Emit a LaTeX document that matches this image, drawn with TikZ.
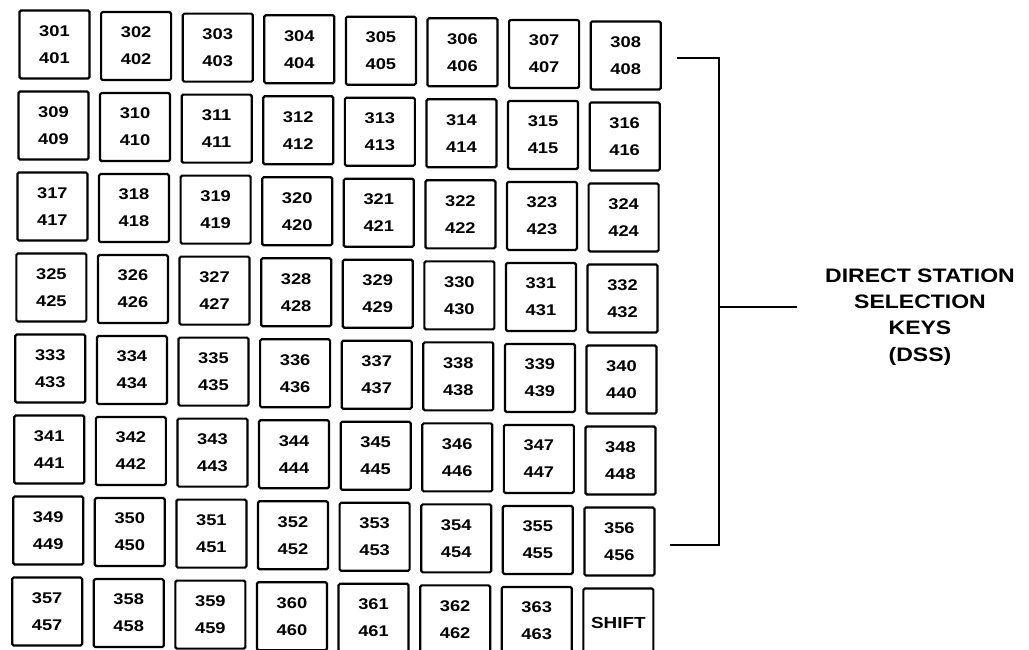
\documentclass[tikz,border=0pt]{standalone}
\usepackage{fontspec}
\newfontfamily\keyf{Liberation Sans}[FakeStretch=1.18]
\begin{document}
\begin{tikzpicture}[x=1pt,y=-1pt,
  keybox/.style={draw=black,line width=2.2pt,rounded corners=1.5pt,minimum width=70pt,minimum height=68pt,inner sep=0pt,align=center,font=\keyf\bfseries\fontsize{15.5}{27}\selectfont},
  bracket/.style={draw=black,line width=2pt},
  dsslabel/.style={align=center,inner sep=0pt,font=\keyf\bfseries\fontsize{19.5}{26.3}\selectfont}]
\useasboundingbox (0,0) rectangle (1029,650);
\fill[white] (0,0) rectangle (1029,650);
\foreach \r in {0,...,7}{
  \foreach \c in {0,...,7}{
    \pgfmathtruncatemacro\n{301+8*\r+\c}
    \pgfmathtruncatemacro\m{\n+100}
    \pgfmathsetmacro\xx{54.5+81.6*\c-1.05*\r}
    \pgfmathsetmacro\yy{44.5+1.57*\c+81*\r}
    \ifnum\n=364
      \node[keybox] (shift) at (\xx,\yy) {\fontsize{16}{20}\selectfont SHIFT};
    \else
      \node[keybox] (k\n) at (\xx,\yy) {\n\\\m};
    \fi
  }
}
\coordinate (bt) at (677,58);
\coordinate (btc) at (719,58);
\coordinate (bbc) at (719,545);
\coordinate (bb) at (670,545);
\coordinate (bm) at (719,307);
\coordinate (bme) at (797,307);
\draw[bracket] (bt) -- (btc) -- (bbc) -- (bb);
\draw[bracket] (bm) -- (bme);
\node[dsslabel] (dss) at (920,317) {DIRECT STATION\\SELECTION\\KEYS\\(DSS)};
\end{tikzpicture}
\end{document}
